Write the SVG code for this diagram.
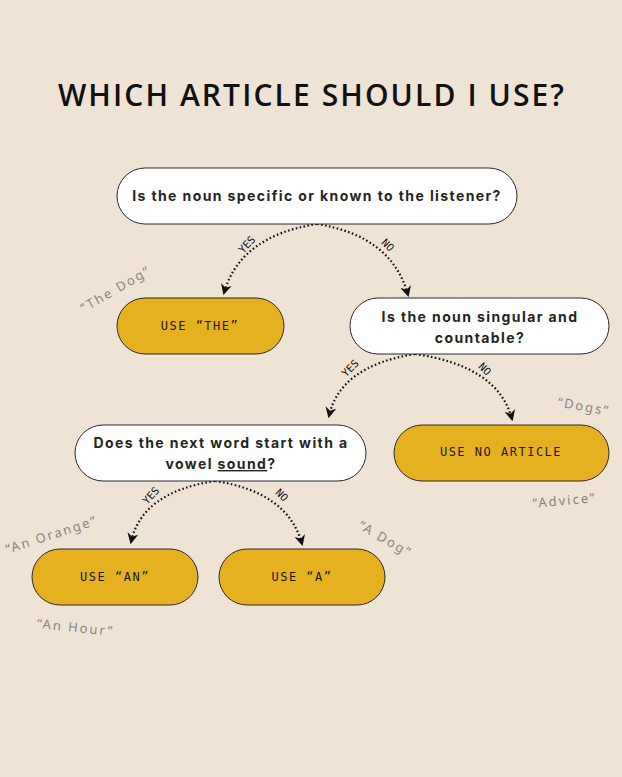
<svg xmlns="http://www.w3.org/2000/svg" width="622" height="777" viewBox="0 0 622 777">
<defs>
<marker id="ah" viewBox="0 0 10 10" refX="8" refY="5" markerWidth="5" markerHeight="5" orient="auto">
<path d="M0,0 L10,5 L0,10 L3,5 z" fill="#111"/>
</marker>
<style>
.q{fill:#fff;stroke:#2a2a2a;stroke-width:1}
.a{fill:#E6B120;stroke:#2a2a2a;stroke-width:1}
.qt{font-family:Inter,"Liberation Sans",sans-serif;font-weight:700;font-size:14px;letter-spacing:1.4px;fill:#1f2623;text-anchor:middle}
.at{font-family:"DejaVu Sans Mono","Liberation Mono",monospace;font-size:12px;letter-spacing:1.5px;fill:#1a1a1a;text-anchor:middle}
.c{fill:none;stroke:#111;stroke-width:2.2;stroke-dasharray:1.6 2.4;marker-end:url(#ah)}
.cl{font-family:"DejaVu Sans Mono","Liberation Mono",monospace;font-size:10.5px;fill:#111;text-anchor:middle}
.ex{font-family:"Noto Sans",sans-serif;font-size:13px;letter-spacing:2px;fill:#8a8580;text-anchor:middle}
</style>
</defs>
<rect width="622" height="777" fill="#EFE3D5"/>
<text x="312" y="106" font-family="'Open Sans','Liberation Sans',sans-serif" font-weight="600" font-size="30" letter-spacing="2.1" text-anchor="middle" fill="#111">WHICH ARTICLE SHOULD I USE?</text>

<g id="connectors">
<path class="c" d="M317,224 Q240,236 224,293"/>
<path class="c" d="M317,224 Q392,236 408,295"/>
<path class="c" d="M415,354 Q340,366 329,416"/>
<path class="c" d="M415,354 Q498,366 512,419"/>
<path class="c" d="M215,481 Q142,492 131,542"/>
<path class="c" d="M215,481 Q288,492 302,544"/>
<text class="cl" transform="translate(254,251) rotate(-48)" y="-6">YES</text>
<text class="cl" transform="translate(381,252) rotate(45)" y="-6">NO</text>
<text class="cl" transform="translate(357,375) rotate(-45)" y="-6">YES</text>
<text class="cl" transform="translate(478,376) rotate(45)" y="-6">NO</text>
<text class="cl" transform="translate(158,502) rotate(-48)" y="-6">YES</text>
<text class="cl" transform="translate(275,502) rotate(45)" y="-6">NO</text>
</g>

<g id="n1">
<rect class="q" x="117" y="168" width="400" height="56" rx="28"/>
<text class="qt" x="317" y="201">Is the noun specific or known to the listener?</text>
</g>
<g id="n-the">
<rect class="a" x="117" y="298" width="167" height="56" rx="28"/>
<text class="at" x="200" y="330">USE “THE”</text>
</g>
<g id="n2">
<rect class="q" x="350" y="298" width="259" height="56" rx="28"/>
<text class="qt" x="480" y="322">Is the noun singular and</text>
<text class="qt" x="480" y="343">countable?</text>
</g>
<g id="n3">
<rect class="q" x="75" y="425" width="291" height="56" rx="28"/>
<text class="qt" x="221" y="448">Does the next word start with a</text>
<text class="qt" x="221" y="469">vowel <tspan text-decoration="underline">sound</tspan>?</text>
</g>
<g id="n-none">
<rect class="a" x="394" y="425" width="215" height="56" rx="28"/>
<text class="at" x="501" y="456">USE NO ARTICLE</text>
</g>
<g id="n-an">
<rect class="a" x="32" y="549" width="166" height="56" rx="28"/>
<text class="at" x="115" y="581">USE “AN”</text>
</g>
<g id="n-a">
<rect class="a" x="219" y="549" width="166" height="56" rx="28"/>
<text class="at" x="302" y="581">USE “A”</text>
</g>

<g id="examples">
<text class="ex" transform="translate(118,293) rotate(-30)">“The Dog”</text>
<text class="ex" transform="translate(583,411) rotate(10)">“Dogs”</text>
<text class="ex" transform="translate(565,505) rotate(-5)">“Advice”</text>
<text class="ex" transform="translate(53,539) rotate(-18)">“An Orange”</text>
<text class="ex" transform="translate(75,632) rotate(6)">“An Hour”</text>
<text class="ex" transform="translate(383,543) rotate(30)">“A Dog”</text>
</g>
</svg>
